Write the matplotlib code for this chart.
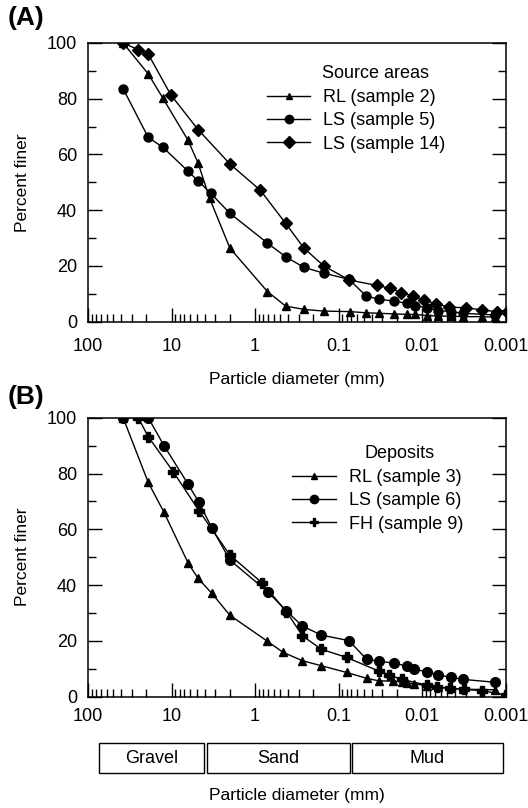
import numpy as np
import matplotlib.pyplot as plt
from matplotlib.lines import Line2D
from matplotlib.patches import Rectangle
from matplotlib.transforms import blended_transform_factory

plt.rcParams['font.family'] = ['Liberation Sans', 'DejaVu Sans']

# Panel A - source areas (diameter in mm, percent finer)
rl2_d = [38, 19, 12.7, 6.4, 4.8, 3.5, 2.0, 0.71, 0.43, 0.26, 0.15, 0.073, 0.047, 0.033,
         0.0215, 0.0152, 0.0121, 0.0088, 0.0064, 0.0045, 0.0032, 0.0019, 0.00134]
rl2_p = [100, 88.9, 80.2, 65.3, 56.9, 44.3, 26.4, 10.8, 5.6, 4.4, 3.8, 3.6, 3.2, 3.0,
         2.8, 2.6, 2.6, 2.2, 2.0, 2.0, 1.8, 1.8, 1.6]

ls5_d = [38, 19, 12.7, 6.4, 4.8, 3.4, 2.0, 0.71, 0.43, 0.26, 0.15, 0.075, 0.047, 0.033,
         0.0215, 0.0152, 0.0121, 0.0088, 0.0064, 0.0045, 0.0032, 0.00134]
ls5_p = [83.6, 66.1, 62.6, 54.1, 50.5, 46.1, 38.9, 28.2, 23.3, 19.5, 17.4, 15.2, 9.3, 8.0,
         7.4, 6.6, 5.8, 5.0, 4.0, 3.6, 3.0, 2.4]

ls14_d = [38, 25, 19, 10.2, 4.8, 2.0, 0.86, 0.43, 0.26, 0.15, 0.075, 0.035, 0.024, 0.0178,
          0.0127, 0.0094, 0.0068, 0.0048, 0.0030, 0.0019, 0.00127, 0.00097]
ls14_p = [100, 97.6, 96.0, 81.4, 68.9, 56.6, 47.1, 35.3, 26.4, 20.0, 15.0, 13.0, 12.0, 10.4,
          9.2, 7.6, 6.5, 5.2, 5.0, 4.2, 3.6, 3.6]

# Panel B - deposits
rl3_d = [38, 19, 12.3, 6.3, 4.8, 3.3, 2.0, 0.72, 0.46, 0.27, 0.16, 0.08, 0.046, 0.033,
         0.022, 0.0175, 0.0152, 0.0124, 0.0088, 0.0064, 0.0045, 0.0032, 0.00134]
rl3_p = [100, 76.8, 66.1, 47.8, 42.4, 37.1, 29.2, 20.0, 15.9, 12.9, 11.1, 8.7, 6.6, 5.7,
         5.6, 5.3, 5.0, 4.6, 4.0, 3.5, 3.0, 2.7, 2.5]

ls6_d = [38, 19, 12.3, 6.3, 4.7, 3.3, 2.0, 0.69, 0.42, 0.27, 0.16, 0.075, 0.046, 0.033,
         0.0215, 0.0152, 0.0124, 0.0088, 0.0064, 0.0045, 0.0032, 0.00134]
ls6_p = [100, 100, 90, 76.1, 69.7, 60.6, 49.0, 37.4, 30.7, 25.3, 22.1, 20.1, 13.4, 12.8,
         12.0, 11.0, 9.8, 9.0, 7.8, 7.0, 6.2, 5.2]

fh9_d = [25, 19, 9.5, 4.7, 2.0, 0.83, 0.42, 0.27, 0.16, 0.08, 0.033, 0.0247, 0.0175,
         0.0088, 0.0067, 0.0046, 0.0031, 0.0019, 0.001]
fh9_p = [100, 93.2, 80.6, 66.7, 50.8, 40.9, 30.5, 21.8, 17.0, 14.1, 9.2, 7.8, 6.2,
         4.2, 3.4, 3.0, 2.6, 2.2, 0.6]

xticks = [100, 10, 1, 0.1, 0.01, 0.001]
xtick_labels = ['100', '10', '1', '0.1', '0.01', '0.001']
yticks = [0, 20, 40, 60, 80, 100]

grain_classes = ['Gravel', 'Sand', 'Mud']
class_coarse = [74, 3.76, 0.069]
class_fine = [4.08, 0.073, 0.00107]

fig = plt.figure(figsize=(5.28, 8.08), dpi=100)
axA = fig.add_axes([0.1667, 0.6019, 0.7907, 0.3449])
axB = fig.add_axes([0.1667, 0.1377, 0.7907, 0.3453])


def style_axes(ax, xpad):
    ax.set_xscale('log')
    ax.set_xlim(100, 0.001)
    ax.set_ylim(0, 100)
    ax.set_xticks(xticks)
    ax.set_xticklabels(xtick_labels)
    ax.xaxis.set_minor_locator(plt.matplotlib.ticker.LogLocator(base=10, subs=np.arange(2, 10), numticks=20))
    ax.xaxis.set_minor_formatter(plt.NullFormatter())
    ax.set_yticks(yticks)
    ax.set_yticks(np.arange(10, 100, 20), minor=True)
    ax.tick_params(axis='both', which='both', direction='in', labelsize=13, width=1)
    ax.tick_params(axis='x', which='both', top=False, pad=xpad)
    ax.tick_params(axis='y', which='both', right=True, pad=8)
    ax.tick_params(which='major', length=10)
    ax.tick_params(which='minor', length=5.5)
    for s in ax.spines.values():
        s.set_linewidth(1.1)
    ax.set_ylabel('Percent finer', fontsize=12.5)
    ax.yaxis.set_label_coords(-0.138, 0.5)


kw = dict(color='black', lw=1.0)

axA.plot(rl2_d, rl2_p, marker='^', ms=6, **kw)
axA.plot(ls5_d, ls5_p, marker='o', ms=6.5, **kw)
axA.plot(ls14_d, ls14_p, marker='D', ms=6, **kw)
style_axes(axA, 12)
axA.set_xlabel('Particle diameter (mm)', fontsize=12.5)
axA.xaxis.set_label_coords(0.5, -0.18)
handlesA = [Line2D([], [], marker='^', ms=5, **kw),
            Line2D([], [], marker='o', ms=6, **kw),
            Line2D([], [], marker='D', ms=6.5, **kw)]
axA.legend(handlesA, ['RL (sample 2)', 'LS (sample 5)', 'LS (sample 14)'],
           loc='upper left', bbox_to_anchor=(0.429, 0.835), frameon=False, fontsize=13,
           handlelength=2.4, handletextpad=0.72, labelspacing=0.35,
           borderpad=0, borderaxespad=0)
axA.text(0.561, 0.892, 'Source areas', transform=axA.transAxes, fontsize=13,
         ha='left', va='center')

axB.plot(rl3_d, rl3_p, marker='^', ms=6, **kw)
axB.plot(ls6_d, ls6_p, marker='o', ms=7, **kw)
axB.plot(fh9_d, fh9_p, marker='P', ms=7, **kw)
style_axes(axB, 8)
axB.set_xlabel('Particle diameter (mm)', fontsize=12.5)
axB.xaxis.set_label_coords(0.5, -0.327)
handlesB = [Line2D([], [], marker='^', ms=5, **kw),
            Line2D([], [], marker='o', ms=6, **kw),
            Line2D([], [], marker='P', ms=6, **kw)]
axB.legend(handlesB, ['RL (sample 3)', 'LS (sample 6)', 'FH (sample 9)'],
           loc='upper left', bbox_to_anchor=(0.489, 0.816), frameon=False, fontsize=13,
           handlelength=2.4, handletextpad=0.75, labelspacing=0.35,
           borderpad=0, borderaxespad=0)
axB.text(0.747, 0.873, 'Deposits', transform=axB.transAxes, fontsize=13,
         ha='center', va='center')

# grain-size class boxes under panel B
trans = blended_transform_factory(axB.transData, axB.transAxes)
for name, c0, c1 in zip(grain_classes, class_coarse, class_fine):
    axB.add_patch(Rectangle((c0, -0.273), c1 - c0, 0.107, transform=trans,
                            fill=False, lw=1.0, ec='black', clip_on=False))
    xm = np.sqrt(c0 * c1)
    axB.text(xm, -0.22, name, transform=trans, ha='center', va='center', fontsize=13)

fig.text(0.015, 0.978, '(A)', fontsize=19, fontweight='bold', va='center', ha='left')
fig.text(0.015, 0.509, '(B)', fontsize=19, fontweight='bold', va='center', ha='left')

fig.savefig('out.png', dpi=100)
